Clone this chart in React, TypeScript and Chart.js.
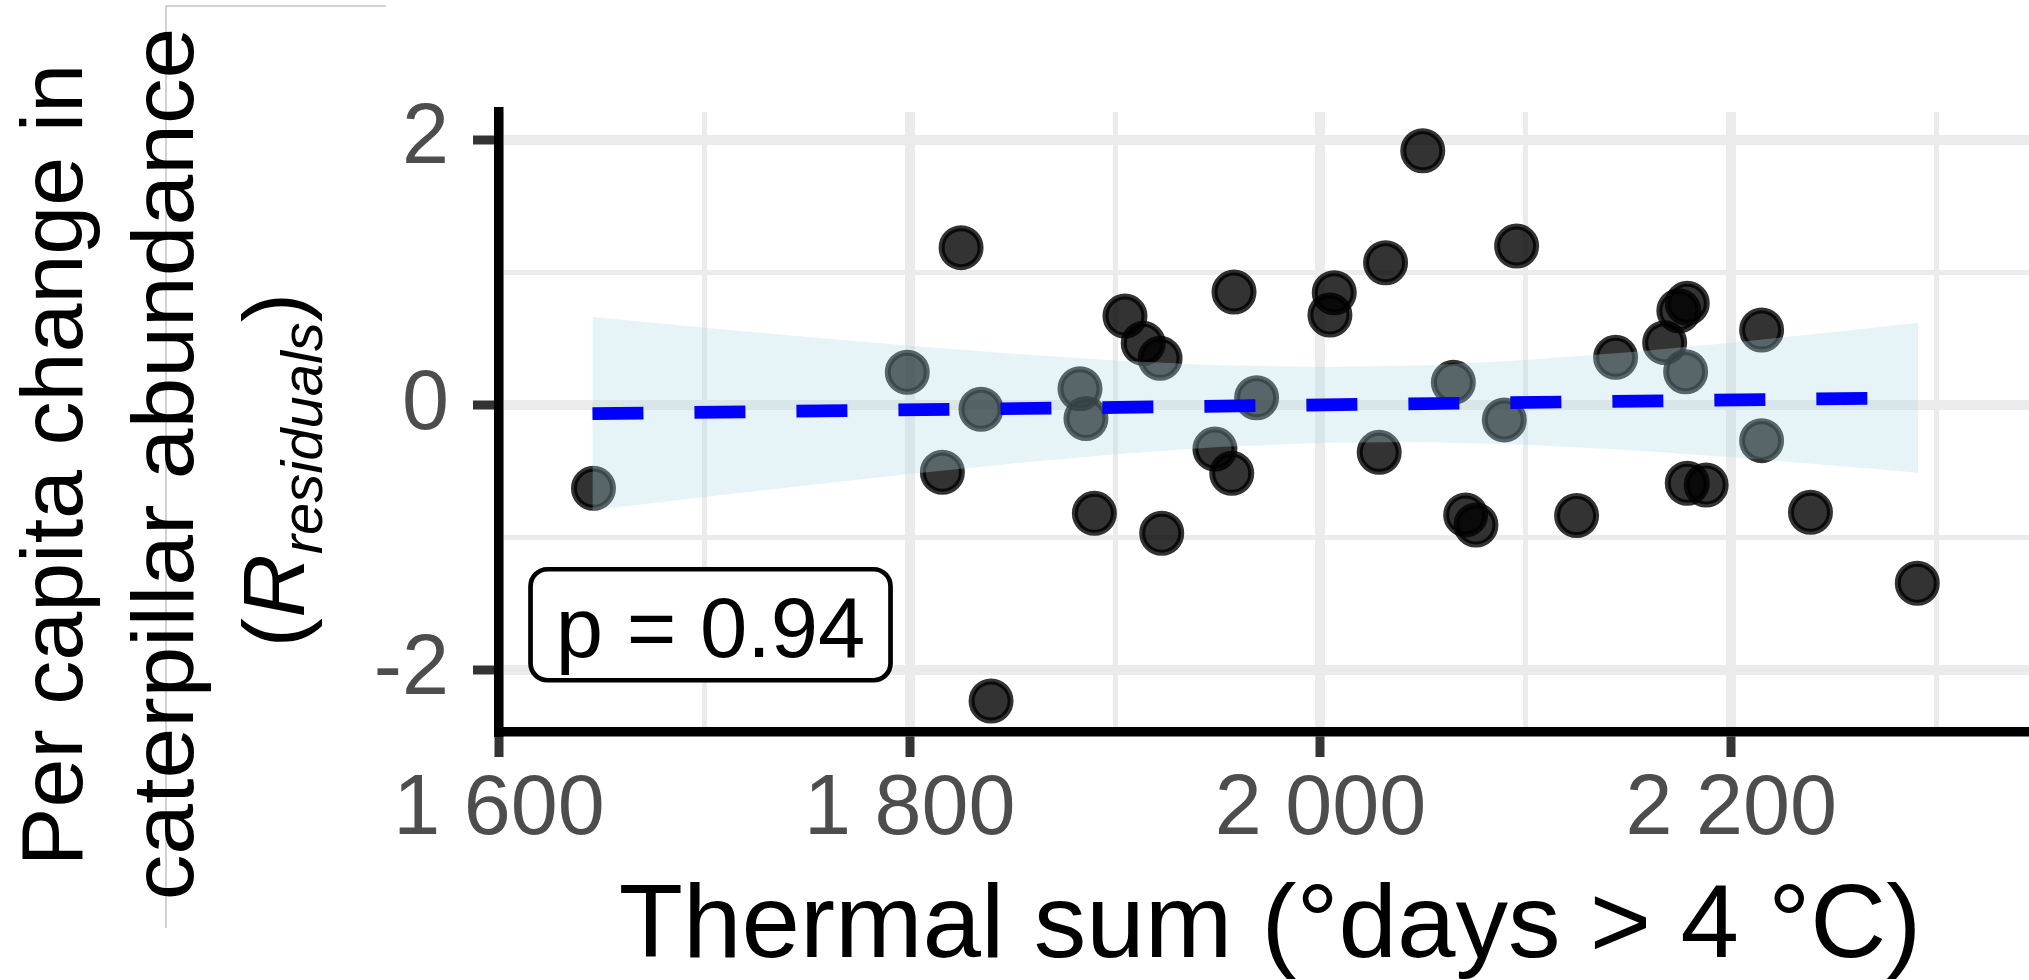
import React, { useEffect, useRef } from 'react';
import { Chart, registerables } from 'chart.js';

Chart.register(...registerables);

// ---- data ----
const thermalSum = [
  1646.0, 1798.8, 1815.9, 1825.0, 1834.7, 1839.6, 1882.9, 1885.8, 1889.9, 1904.8,
  1913.7, 1921.9, 1922.7, 1948.6, 1956.8, 1957.9, 1968.9, 2004.6, 2006.7, 2028.6,
  2031.7, 2049.8, 2064.7, 2070.7, 2075.7, 2089.5, 2095.5, 2124.7, 2143.7, 2167.6,
  2174.5, 2178.6, 2177.8, 2178.6, 2187.8, 2214.8, 2214.8, 2238.6, 2290.6,
];
const residuals = [
  -0.626, 0.249, -0.505, 1.189, -0.03, -2.23, 0.125, -0.1, -0.815, 0.673,
  0.467, 0.354, -0.965, -0.33, -0.513, 0.854, 0.057, 0.681, 0.849, -0.355,
  1.075, 1.92, 0.173, -0.827, -0.903, -0.11, 1.201, -0.832, 0.362, 0.472,
  0.713, 0.769, 0.253, -0.588, -0.601, 0.568, -0.267, -0.807, -1.342,
];

const fitX = [1645.5, 2291];
const fitY = [-0.063, 0.057];

const bandX = [1645.5, 1700, 1750, 1800, 1850, 1900, 1950, 2000, 2050, 2100, 2150, 2200, 2250, 2291];
const bandUpper = [0.665, 0.585, 0.515, 0.45, 0.389, 0.338, 0.302, 0.288, 0.3, 0.341, 0.4, 0.472, 0.552, 0.623];
const bandLower = [-0.791, -0.691, -0.603, -0.518, -0.439, -0.37, -0.314, -0.282, -0.276, -0.297, -0.338, -0.392, -0.454, -0.509];

const xMajorTicks = [1600, 1800, 2000, 2200];
const xTickLabels = ['1 600', '1 800', '2 000', '2 200'];
const yMajorTicks = [-2, 0, 2];
const yTickLabels = ['-2', '0', '2'];

const xRange = [1600, 2345];
const yRange = [-2.464, 2.212];

const xTitle = 'Thermal sum (°days > 4 °C)';
const yTitleLine1 = 'Per capita change in';
const yTitleLine2 = 'caterpillar abundance';
const yTitleR = 'R';
const yTitleSub = 'residuals';

const pText = 'p = 0.94';
const pPos = [1703, -1.655];

const FAMILY = "'Liberation Sans', Arial, Helvetica, sans-serif";

const decorPlugin = {
  id: 'decor',
  afterDraw(chart: any) {
    const ctx = chart.ctx as CanvasRenderingContext2D;
    const xs = chart.scales.x;
    const ys = chart.scales.y;
    ctx.save();

    // thin grey frame fragments seen at top-left of the reference
    ctx.strokeStyle = '#C4C4C4';
    ctx.lineWidth = 1.5;
    ctx.beginPath();
    ctx.moveTo(166, 928);
    ctx.lineTo(166, 6);
    ctx.lineTo(386, 6);
    ctx.stroke();

    // p-value label
    const cx = xs.getPixelForValue(pPos[0]);
    const cy = ys.getPixelForValue(pPos[1]);
    const bw = 360;
    const bh = 111;
    const r = 17;
    const x0 = cx - bw / 2;
    const y0 = cy - bh / 2;
    ctx.beginPath();
    ctx.moveTo(x0 + r, y0);
    ctx.lineTo(x0 + bw - r, y0);
    ctx.arcTo(x0 + bw, y0, x0 + bw, y0 + r, r);
    ctx.lineTo(x0 + bw, y0 + bh - r);
    ctx.arcTo(x0 + bw, y0 + bh, x0 + bw - r, y0 + bh, r);
    ctx.lineTo(x0 + r, y0 + bh);
    ctx.arcTo(x0, y0 + bh, x0, y0 + bh - r, r);
    ctx.lineTo(x0, y0 + r);
    ctx.arcTo(x0, y0, x0 + r, y0, r);
    ctx.closePath();
    ctx.fillStyle = '#FFFFFF';
    ctx.fill();
    ctx.strokeStyle = '#000000';
    ctx.lineWidth = 4.7;
    ctx.stroke();
    ctx.fillStyle = '#000000';
    ctx.font = `85px ${FAMILY}`;
    ctx.textAlign = 'center';
    ctx.textBaseline = 'alphabetic';
    ctx.fillText(pText, cx, cy + 32);

    // x axis title
    ctx.save();
    ctx.translate(1270, 957);
    ctx.scale(1.011, 1);
    ctx.font = `104px ${FAMILY}`;
    ctx.textAlign = 'center';
    ctx.fillText(xTitle, 0, 0);
    ctx.restore();

    // y axis title (rotated)
    const drawRot = (text: string, bx: number, cyy: number, size: number, stretch: number) => {
      ctx.save();
      ctx.translate(bx, cyy);
      ctx.rotate(-Math.PI / 2);
      ctx.scale(stretch, 1);
      ctx.font = `${size}px ${FAMILY}`;
      ctx.textAlign = 'center';
      ctx.fillText(text, 0, 0);
      ctx.restore();
    };
    drawRot(yTitleLine1, 82, 465, 88, 1);
    drawRot(yTitleLine2, 193, 464, 88, 1.037);

    // third line: (R_residuals)
    ctx.save();
    ctx.translate(304, 470);
    ctx.rotate(-Math.PI / 2);
    ctx.textAlign = 'left';
    const fMain = `88px ${FAMILY}`;
    const fIt = `italic 88px ${FAMILY}`;
    const fSub = `italic 58px ${FAMILY}`;
    ctx.font = fMain;
    const wOpen = ctx.measureText('(').width;
    const wClose = ctx.measureText(')').width;
    ctx.font = fIt;
    const wR = ctx.measureText(yTitleR).width;
    ctx.font = fSub;
    const wSub = ctx.measureText(yTitleSub).width;
    let px = -(wOpen + wR + wSub + wClose) / 2;
    ctx.font = fMain;
    ctx.fillText('(', px, 0);
    px += wOpen;
    ctx.font = fIt;
    ctx.fillText(yTitleR, px, 0);
    px += wR;
    ctx.font = fSub;
    ctx.fillText(yTitleSub, px, 18);
    px += wSub;
    ctx.font = fMain;
    ctx.fillText(')', px, 0);
    ctx.restore();

    ctx.restore();
  },
};

export default function App() {
  const ref = useRef<HTMLCanvasElement | null>(null);

  useEffect(() => {
    if (!ref.current) return;
    const points = thermalSum.map((x, i) => ({ x, y: residuals[i] }));
    const upper = bandX.map((x, i) => ({ x, y: bandUpper[i] }));
    const lower = bandX.map((x, i) => ({ x, y: bandLower[i] }));
    const fit = fitX.map((x, i) => ({ x, y: fitY[i] }));

    const chart = new Chart(ref.current, {
      type: 'line',
      data: {
        datasets: [
          {
            label: 'points',
            data: points,
            showLine: false,
            order: 3,
            pointRadius: 19.5,
            pointHoverRadius: 19.5,
            pointBorderWidth: 6,
            pointBackgroundColor: 'rgba(0,0,0,0.8)',
            pointBorderColor: 'rgba(0,0,0,0.8)',
          } as any,
          {
            label: 'ci-upper',
            data: upper,
            order: 2,
            borderWidth: 0,
            borderColor: 'rgba(0,0,0,0)',
            pointRadius: 0,
            tension: 0,
            fill: '+1',
            backgroundColor: 'rgba(173,216,230,0.3)',
          } as any,
          {
            label: 'ci-lower',
            data: lower,
            order: 2,
            borderWidth: 0,
            borderColor: 'rgba(0,0,0,0)',
            pointRadius: 0,
            tension: 0,
            fill: false,
          } as any,
          {
            label: 'fit',
            data: fit,
            order: 1,
            borderColor: '#0000FF',
            borderWidth: 12.7,
            borderDash: [51, 51],
            borderCapStyle: 'butt',
            pointRadius: 0,
            fill: false,
          } as any,
        ],
      },
      options: {
        animation: false,
        responsive: false,
        devicePixelRatio: 1,
        events: [],
        layout: { padding: { top: 112, right: 0, bottom: 0, left: 0 }, autoPadding: false },
        plugins: { legend: { display: false }, tooltip: { enabled: false }, title: { display: false } },
        scales: {
          x: {
            type: 'linear',
            position: 'bottom',
            min: xRange[0],
            max: xRange[1],
            afterFit: (s: any) => {
              s.height = 248;
            },
            ticks: {
              stepSize: 100,
              includeBounds: false,
              autoSkip: false,
              maxRotation: 0,
              minRotation: 0,
              padding: 3,
              color: '#4D4D4D',
              font: { family: FAMILY, size: 84.5 },
              callback: (v: any) => {
                const i = xMajorTicks.indexOf(Number(v));
                return i >= 0 ? xTickLabels[i] : '';
              },
            },
            grid: {
              color: '#EBEBEB',
              lineWidth: (c: any) => (xMajorTicks.includes(c.tick?.value) ? 10 : 5),
              tickColor: (c: any) => (xMajorTicks.includes(c.tick?.value) ? '#333333' : 'rgba(0,0,0,0)'),
              tickWidth: 9,
              tickLength: 25,
              drawTicks: true,
            },
            border: { display: true, color: '#000000', width: 9.5, z: 1 },
          },
          y: {
            type: 'linear',
            position: 'left',
            min: yRange[0],
            max: yRange[1],
            afterFit: (s: any) => {
              s.width = 499;
            },
            ticks: {
              stepSize: 1,
              includeBounds: false,
              autoSkip: false,
              padding: 24,
              color: '#4D4D4D',
              font: { family: FAMILY, size: 84.5 },
              callback: (v: any) => {
                const i = yMajorTicks.indexOf(Number(v));
                return i >= 0 ? yTickLabels[i] : '';
              },
            },
            grid: {
              color: '#EBEBEB',
              lineWidth: (c: any) => (yMajorTicks.includes(c.tick?.value) ? 10 : 5),
              tickColor: (c: any) => (yMajorTicks.includes(c.tick?.value) ? '#333333' : 'rgba(0,0,0,0)'),
              tickWidth: 9,
              tickLength: 26,
              drawTicks: true,
            },
            border: { display: true, color: '#000000', width: 9.5, z: 1 },
          },
        },
      } as any,
      plugins: [decorPlugin],
    });
    return () => chart.destroy();
  }, []);

  return (
    <div style={{ position: 'fixed', left: 0, top: 0, width: 2029, height: 980, background: '#FFFFFF' }}>
      <canvas ref={ref} width={2029} height={980} style={{ display: 'block' }} />
    </div>
  );
}
